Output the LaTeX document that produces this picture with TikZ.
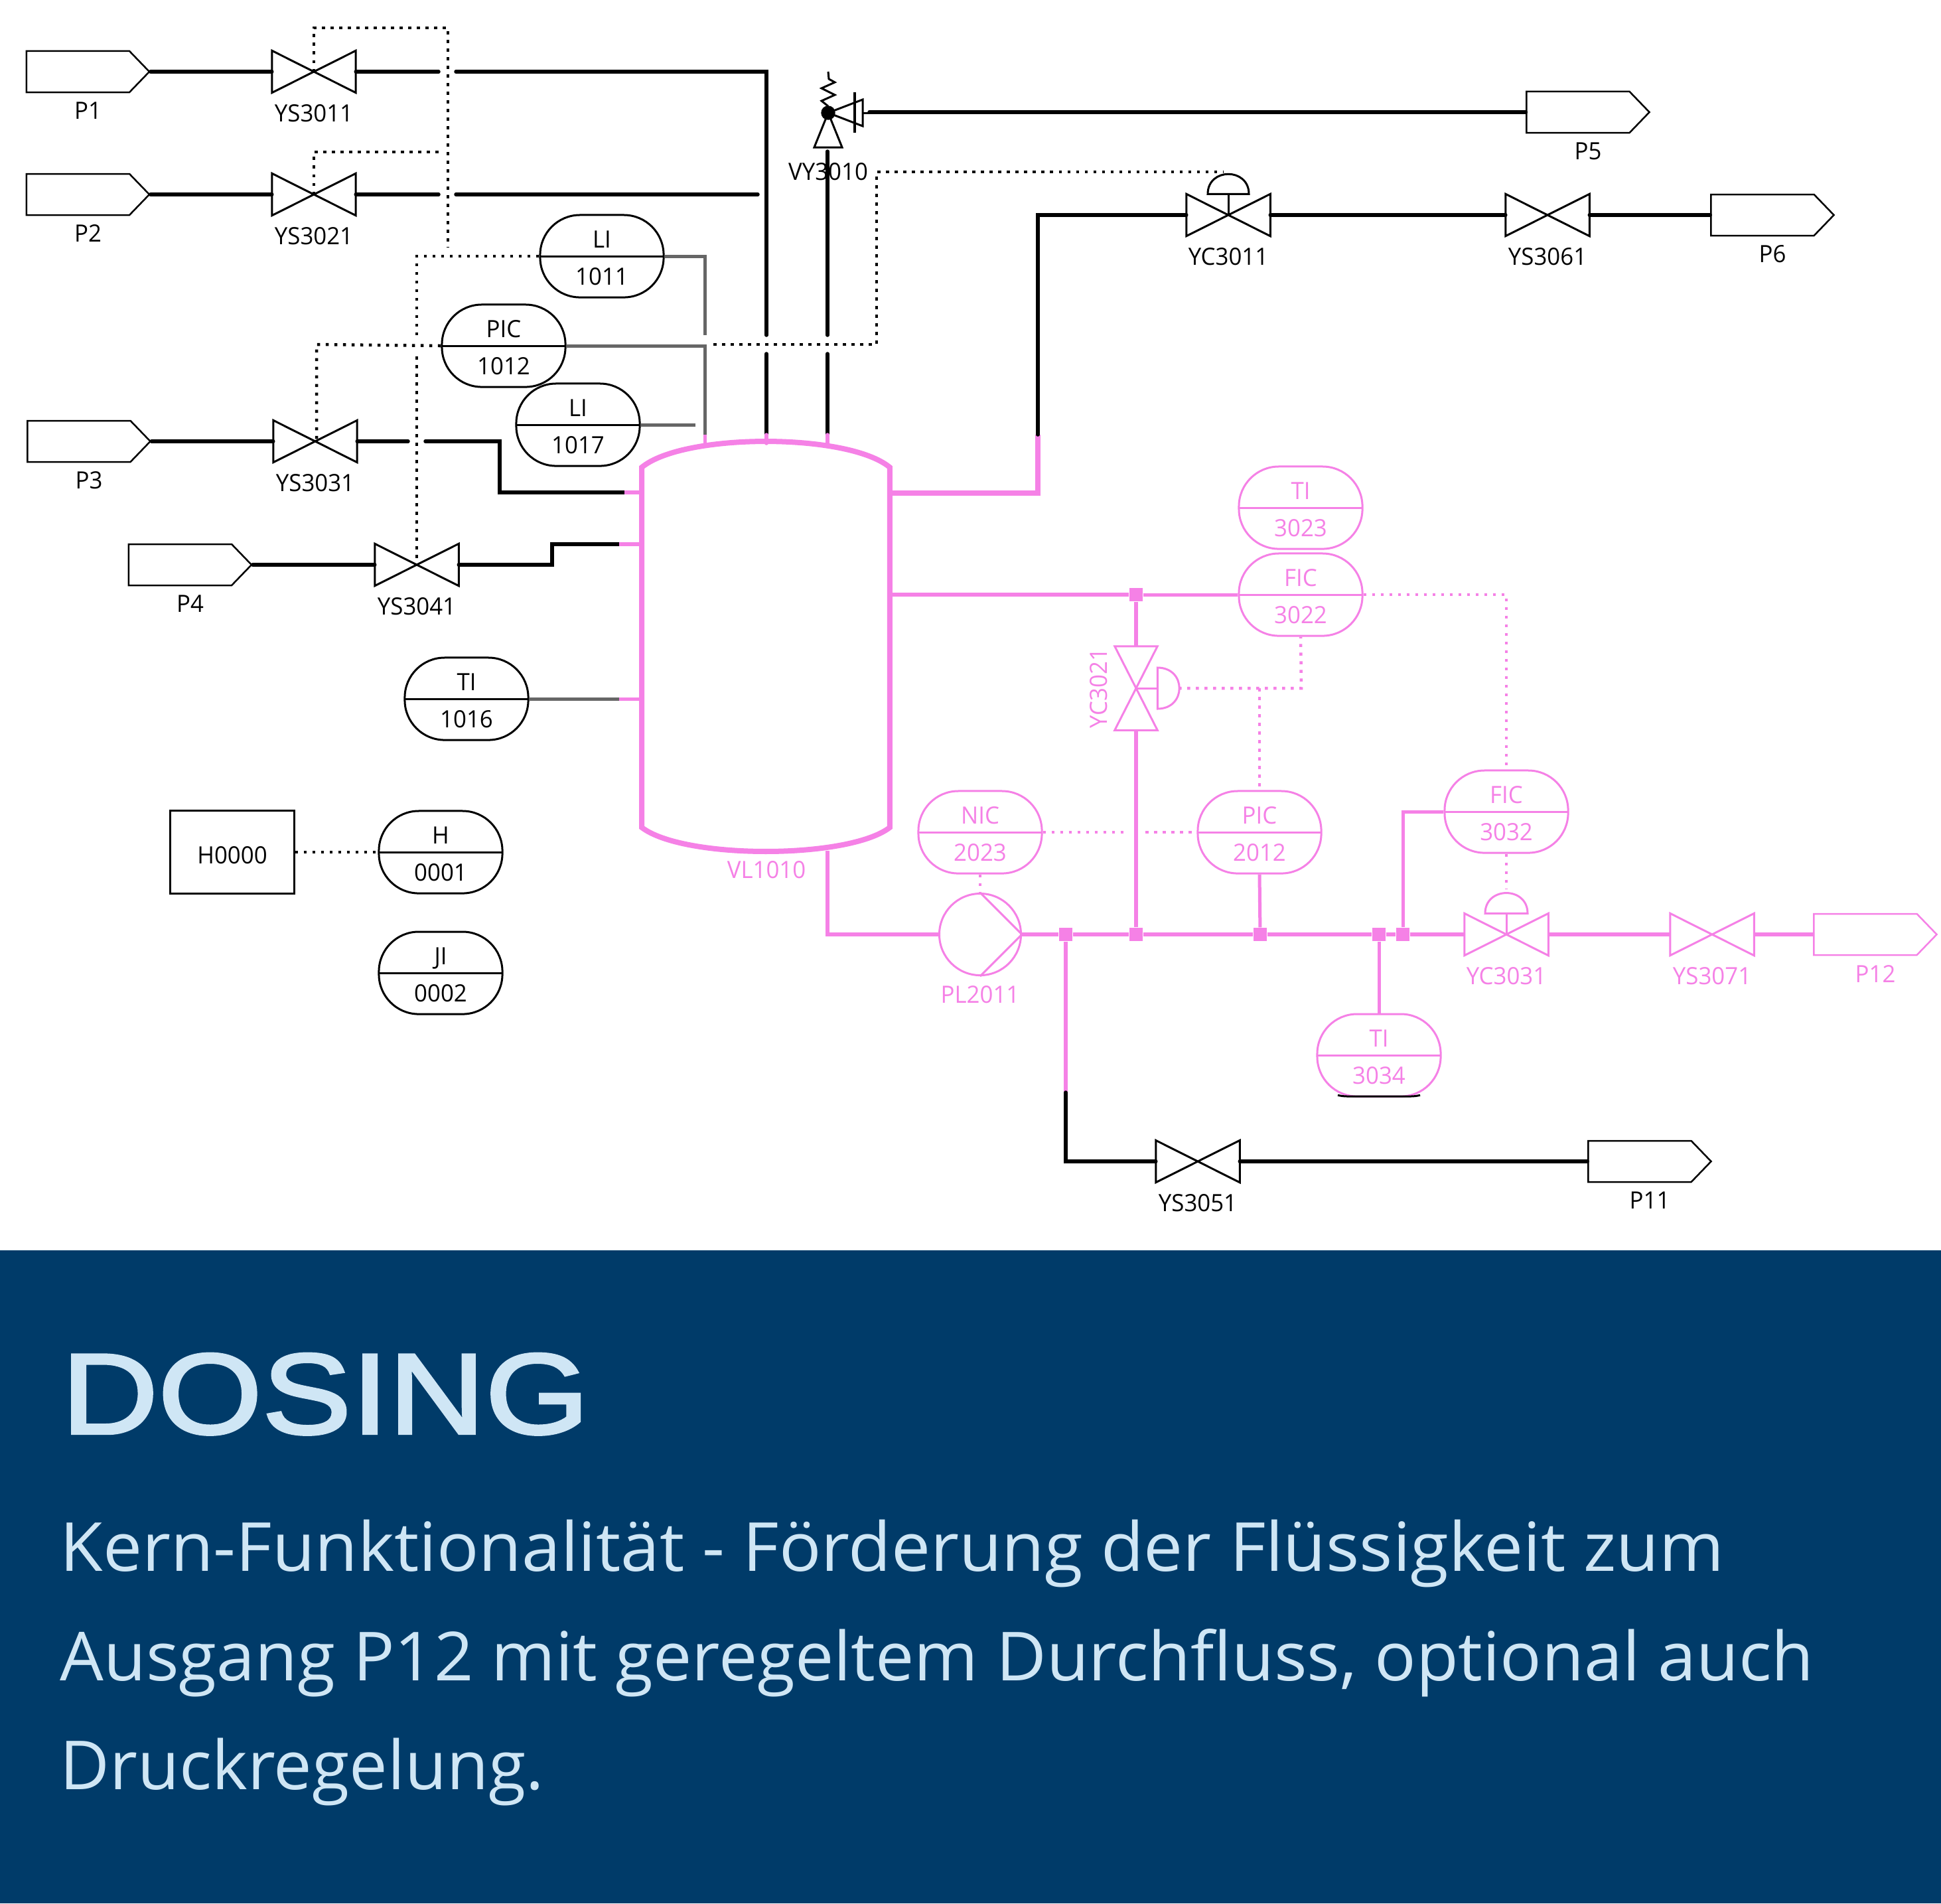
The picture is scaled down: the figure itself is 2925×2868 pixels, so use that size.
\documentclass[tikz,border=0pt]{standalone}
\usepackage{fontspec}
\usetikzlibrary{shapes.symbols}
\newfontfamily\tagfont[FakeStretch=.97]{Open Sans}
\newfontfamily\headfont[FakeStretch=1.17,FakeBold=2.5]{Liberation Sans}
\newfontfamily\bodyfont{Open Sans}
\definecolor{pinkline}{HTML}{F581E6}
\definecolor{greyline}{HTML}{666666}
\definecolor{navyband}{HTML}{003B69}
\definecolor{paleblue}{HTML}{CFE6F5}
\tikzset{
	tagtext/.style={font=\fontsize{10.2pt}{15.9pt}\selectfont\tagfont},
	every label/.style={inner sep=0pt},
	pipe/.style={line width=.055cm,line cap=round},
	pinkpipe/.style={line width=.065cm,pinkline},
	tank/.style={line width=.08cm,pinkline},
	hair/.style={line width=.03cm},
	signalline/.style={line width=.045cm,dash pattern=on .045cm off .085cm},
	gaugeline/.style={line width=.05cm,greyline},
	port/.style={draw=#1,text=#1,signal,signal to=east,signal pointer angle=92,minimum width=1.85cm,minimum height=.62cm,inner sep=0pt,line width=.025cm},
	port/.default=black,
	valve/.style={minimum width=1.25cm,minimum height=.62cm,inner sep=0pt},
	ptag/.style={label distance=.13cm,xshift=.15cm,text=#1},
	ptag/.default=black,
	vtag/.style={label distance=.17cm,text=#1},
	vtag/.default=black,
	instr/.style={draw=#1,text=#1,rectangle,rounded corners=.6cm,minimum width=1.86cm,minimum height=1.24cm,inner sep=0pt,align=center,line width=.03cm,
		execute at begin node={\rule{0pt}{.87cm}},
		path picture={\draw[#1,line width=.03cm] (path picture bounding box.west) -- (path picture bounding box.east);}},
	instr/.default=black,
	joint/.style={fill=pinkline,minimum size=.2cm,inner sep=0pt},
	caption/.style={anchor=base west,inner sep=0pt,text=paleblue,font=\fontsize{29pt}{29pt}\selectfont\bodyfont}
}
\begin{document}
\begin{tikzpicture}[x=.01cm,y=-.01cm,tagtext]
		\useasboundingbox (0,0) rectangle (2925,2868);
		\fill[white] (0,0) rectangle (2925,2868);
		\fill[navyband] (0,1884) rectangle (2925,2868);

		% inlets and outlets
		\node[port,label={[ptag]below:P1}] (p1) at (117.5,108) {};
		\node[port,label={[ptag]below:P2}] (p2) at (117.5,293) {};
		\node[port,label={[ptag]below:P3}] (p3) at (119,665) {};
		\node[port,label={[ptag]below:P4}] (p4) at (271.5,851) {};
		\node[port,label={[ptag]below:P5}] (p5) at (2378,169) {};
		\node[port,label={[ptag]below:P6}] (p6) at (2656,324) {};
		\node[port,label={[ptag]below:P11}] (p11) at (2471,1750) {};
		\node[port=pinkline,label={[ptag=pinkline]below:P12}] (p12) at (2811,1408) {};

		% valves
		\node[valve,label={[vtag]below:YS3011}] (ys3011) at (473,108) {};
		\node[valve,label={[vtag]below:YS3021}] (ys3021) at (473,293) {};
		\node[valve,label={[vtag]below:YS3031}] (ys3031) at (475,665) {};
		\node[valve,label={[vtag]below:YS3041}] (ys3041) at (628,851) {};
		\node[valve,label={[vtag]below:YC3011}] (yc3011) at (1851,324) {};
		\node[valve,label={[vtag]below:YS3061}] (ys3061) at (2332,324) {};
		\node[valve,label={[vtag]below:YS3051}] (ys3051) at (1805,1750) {};
		\node[valve,label={[vtag=pinkline]below:YC3031}] (yc3031) at (2270,1408) {};
		\node[valve,label={[vtag=pinkline]below:YS3071}] (ys3071) at (2580,1408) {};
		\node[minimum width=.63cm,minimum height=1.25cm,inner sep=0pt] (yc3021) at (1712,1037) {};
		\node[rotate=90,text=pinkline] (yc3021tag) at (1656,1037) {YC3021};
		\foreach \V in {ys3011,ys3021,ys3031,ys3041,yc3011,ys3061,ys3051}
			\draw[hair] (\V.north west) -- (\V.south east) -- (\V.north east) -- (\V.south west) -- cycle;
		\foreach \V in {yc3031,ys3071}
			\draw[hair,pinkline] (\V.north west) -- (\V.south east) -- (\V.north east) -- (\V.south west) -- cycle;
		\draw[hair,pinkline] (yc3021.north west) -- (yc3021.north east) -- (yc3021.south west) -- (yc3021.south east) -- cycle;

		% actuators
		\draw[hair] (yc3011.center) -- (yc3011.north);
		\draw[hair] (yc3011.north) ++(-31,0) .. controls +(0,-40) and +(0,-40) .. ++(62,0) -- cycle;
		\draw[hair,pinkline] (yc3031.center) -- (yc3031.north);
		\draw[hair,pinkline] (yc3031.north) ++(-32,0) .. controls +(0,-41) and +(0,-41) .. ++(64,0) -- cycle;
		\draw[hair,pinkline] (yc3021.center) -- (yc3021.east);
		\draw[hair,pinkline] (yc3021.east) ++(0,-31) .. controls +(44,0) and +(44,0) .. ++(0,62) -- cycle;

		% relief valve
		\node[draw,circle,fill,minimum size=.2cm,inner sep=0pt] (vy3010) at (1248,170) {};
		\node (vy3010tag) at (1248,259) {VY3010};
		\coordinate (vybase) at (1248,222);
		\coordinate (vyport) at (1300,170);
		\draw[hair] (vy3010.center) -- (1227,222) -- (1269,222) -- cycle;
		\draw[hair] (vy3010.center) -- (1300,150) -- (1300,190) -- cycle;
		\draw[line width=.045cm] (1288,139) -- (1288,200);
		\draw[hair] (vyport) -- (1310,170);
		\draw[hair] (1248,108) -- (1249,119) -- (1258,124) -- (1238,133) -- (1258,143) -- (1238,152) -- (1248,160);

		% vessel
		\node[minimum width=3.72cm,minimum height=5.41cm,inner sep=0pt] (vl1010) at (1154,975.5) {};
		\node[text=pinkline] (vl1010tag) at (1155,1311) {VL1010};
		\draw[tank] (vl1010.north west) .. controls (1030,652) and (1278,652) .. (vl1010.north east)
			-- (vl1010.south east) .. controls (1278,1295) and (1030,1295) .. (vl1010.south west) -- cycle;

		% pump
		\node[draw=pinkline,circle,minimum size=1.23cm,inner sep=0pt,hair,label={[label distance=.14cm,text=pinkline]below:PL2011}] (pl2011) at (1477,1408) {};
		\draw[hair,pinkline] (pl2011.north) -- (pl2011.east) -- (pl2011.south);

		% instruments
		\node[instr] (li1011) at (907,386) {LI\\1011};
		\node[instr] (pic1012) at (759,521) {PIC\\1012};
		\node[instr] (li1017) at (871,640) {LI\\1017};
		\node[instr] (ti1016) at (703,1053) {TI\\1016};
		\node[instr] (h0001) at (664,1284) {H\\0001};
		\node[instr] (ji0002) at (664,1466) {JI\\0002};
		\node[draw,line width=.03cm,minimum width=1.86cm,minimum height=1.24cm,inner sep=0pt,text height=.34cm,text depth=0pt] (h0000) at (350,1284) {H0000};
		\node[instr=pinkline] (ti3023) at (1960,765) {TI\\3023};
		\node[instr=pinkline] (fic3022) at (1960,896) {FIC\\3022};
		\node[instr=pinkline] (nic2023) at (1477,1254) {NIC\\2023};
		\node[instr=pinkline] (pic2012) at (1898,1254) {PIC\\2012};
		\node[instr=pinkline] (fic3032) at (2270,1223) {FIC\\3032};
		\node[instr=pinkline] (ti3034) at (2078,1590) {TI\\3034};
		\draw[line width=.03cm] (2016,1650.2) .. controls (2021,1651.5) and (2026,1652) .. (2031,1652) -- (2125,1652) .. controls (2130,1652) and (2135,1651.5) .. (2140,1650.2);

		% branch points on the pink lines
		\node[joint] (sq1) at (1606,1408) {};
		\node[joint] (sq2) at (1712,1408) {};
		\node[joint] (sq3) at (1899,1408) {};
		\node[joint] (sq4) at (2078,1408) {};
		\node[joint] (sq5) at (2114,1408) {};
		\node[joint] (sq6) at (1712,896) {};

		% where the lines break or change colour
		\coordinate (gap1a) at (661,108);
		\coordinate (gap1b) at (687,108);
		\coordinate (gap2a) at (661,293);
		\coordinate (gap2b) at (687,293);
		\coordinate (gap3a) at (615,665);
		\coordinate (gap3b) at (641,665);
		\coordinate (p1end) at (1155,505);
		\coordinate (p1cont) at (1155,533);
		\coordinate (p1pink) at (1155,655);
		\coordinate (p1tank) at (1155,668);
		\coordinate (p2end) at (1142,293);
		\coordinate (vyend) at (1247,505);
		\coordinate (vycont) at (1247,533);
		\coordinate (vypink) at (1247,655);
		\coordinate (vytank) at (1247,668);
		\coordinate (vytop) at (1247,228);
		\coordinate (vystart) at (1310,169);
		\coordinate (gr1end) at (1062,505);
		\coordinate (gr2pink) at (1062,655);
		\coordinate (gr2tank) at (1062,668);
		\coordinate (gr3end) at (1048,640);
		\coordinate (p3corner) at (753,665);
		\coordinate (p3pink) at (941,742);
		\coordinate (p3tank) at (968,742);
		\coordinate (p4corner) at (832,851);
		\coordinate (p4pink) at (933,820);
		\coordinate (p4tank) at (968,820);
		\coordinate (ti1pink) at (933,1053);
		\coordinate (ti1tank) at (968,1053);
		\coordinate (outtank) at (1340,743);
		\coordinate (outpink) at (1564,655);
		\coordinate (bypass) at (1340,896);
		\coordinate (suction) at (1247,1282);
		\coordinate (p11pink) at (1606,1646);

		% process lines
		\draw[pipe] (p1.east) -- (ys3011.west);
		\draw[pipe] (ys3011.east) -- (gap1a);
		\draw[pipe] (gap1b) -| (p1end);
		\draw[pipe] (p1cont) -- (p1pink);
		\draw[pipe,pinkline] (p1pink) -- (p1tank);
		\draw[pipe] (p2.east) -- (ys3021.west);
		\draw[pipe] (ys3021.east) -- (gap2a);
		\draw[pipe] (gap2b) -- (p2end);
		\draw[pipe] (p3.east) -- (ys3031.west);
		\draw[pipe] (ys3031.east) -- (gap3a);
		\draw[pipe] (gap3b) -- (p3corner) |- (p3pink);
		\draw[pinkpipe] (p3pink) -- (p3tank);
		\draw[pipe] (p4.east) -- (ys3041.west);
		\draw[pipe] (ys3041.east) -- (p4corner) |- (p4pink);
		\draw[pinkpipe] (p4pink) -- (p4tank);
		\draw[pipe] (vytop) -- (vyend);
		\draw[pipe] (vycont) -- (vypink);
		\draw[pipe,pinkline] (vypink) -- (vytank);
		\draw[pipe] (vystart) -- (p5.west);
		\draw[tank] (outtank) -| (outpink);
		\draw[pipe] (outpink) |- (yc3011.west);
		\draw[pipe] (yc3011.east) -- (ys3061.west);
		\draw[pipe] (ys3061.east) -- (p6.west);
		\draw[pinkpipe] (suction) |- (pl2011.west);
		\draw[pinkpipe] (pl2011.east) -- (sq1) -- (sq2) -- (sq3) -- (sq4) -- (sq5) -- (yc3031.west);
		\draw[pinkpipe] (yc3031.east) -- (ys3071.west);
		\draw[pinkpipe] (ys3071.east) -- (p12.west);
		\draw[pinkpipe] (bypass) -- (sq6);
		\draw[gaugeline,pinkline] (sq6) -- (fic3022.west);
		\draw[pinkpipe] (sq6) -- (yc3021.north);
		\draw[pinkpipe] (yc3021.south) -- (sq2);
		\draw[pinkpipe] (sq1) -- (p11pink);
		\draw[pipe] (p11pink) |- (ys3051.west);
		\draw[pipe] (ys3051.east) -- (p11.west);

		% measuring lines
		\draw[gaugeline] (li1011.east) -| (gr1end);
		\draw[gaugeline] (pic1012.east) -| (gr2pink);
		\draw[gaugeline,pinkline] (gr2pink) -- (gr2tank);
		\draw[gaugeline] (li1017.east) -- (gr3end);
		\draw[gaugeline] (ti1016.east) -- (ti1pink);
		\draw[gaugeline,pinkline] (ti1pink) -- (ti1tank);
		\draw[gaugeline,pinkline] (pic2012.south) -- (sq3);
		\draw[gaugeline,pinkline] (sq4) -- (ti3034.north);
		\draw[gaugeline,pinkline] (fic3032.west) -| (sq5);

		% signal lines
		\coordinate (sigtop) at (675,42);
		\coordinate (sigtopend) at (675,373);
		\coordinate (sig2end) at (668,229);
		\coordinate (sigli) at (628,386);
		\coordinate (siglia) at (628,505);
		\coordinate (siglib) at (628,537);
		\coordinate (sigpicl) at (477,519);
		\coordinate (sigpicr) at (1075,519);
		\coordinate (sigup) at (1321,519);
		\coordinate (sigact) at (1844,259);
		\draw[signalline] (ys3011.center) |- (sigtop) -- (sigtopend);
		\draw[signalline] (ys3021.center) |- (sig2end);
		\draw[signalline] (li1011.west) -| (siglia);
		\draw[signalline] (siglib) -- (ys3041.center);
		\draw[signalline] (pic1012.west) -- (sigpicl) -- (ys3031.center -| sigpicl);
		\draw[signalline] (sigpicr) -- (sigup) |- (sigact);
		\draw[signalline] (h0000.east) -- (h0001.west);
		\coordinate (nicgapa) at (1694,1254);
		\coordinate (nicgapb) at (1726,1254);
		\coordinate (domeright) at (1776,1037);
		\coordinate (sigfic) at (1961,1037);
		\coordinate (sigpic) at (1898,1037);
		\coordinate (sigfic2) at (2270,896);
		\coordinate (fic2top) at (2270,1155);
		\coordinate (domebottom) at (2270,1339);
		\draw[signalline,pinkline] (nic2023.south) -- (pl2011.north);
		\draw[signalline,pinkline] (nic2023.east) -- (nicgapa);
		\draw[signalline,pinkline] (nicgapb) -- (pic2012.west);
		\draw[signalline,pinkline] (domeright) -- (sigfic) -- (fic3022.south);
		\draw[signalline,pinkline] (sigpic) -- (pic2012.north);
		\draw[signalline,pinkline] (fic3022.east) -- (sigfic2) -- (fic2top);
		\draw[signalline,pinkline] (fic3032.south) -- (domebottom);

		% caption
		\node[anchor=base west,inner sep=0pt,text=paleblue,font=\fontsize{49pt}{49pt}\selectfont\headfont] (title) at (92,2160) {DOSING};
		\node[caption] (line1) at (90,2367) {\addfontfeature{FakeStretch=1.032}Kern-Funktionalität - Förderung der Flüssigkeit zum};
		\node[caption] (line2) at (90,2532) {\addfontfeature{FakeStretch=1.019}Ausgang P12 mit geregeltem Durchfluss, optional auch};
		\node[caption] (line3) at (90,2696) {\addfontfeature{FakeStretch=1.006}Druckregelung.};
\end{tikzpicture}
\end{document}
